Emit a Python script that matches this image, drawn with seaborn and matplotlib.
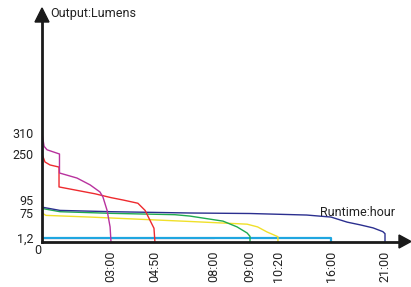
import numpy as np
import pandas as pd
import seaborn as sns
import matplotlib.pyplot as plt
from matplotlib.patches import Polygon

sns.set_style('white')
plt.rcParams['font.family'] = ['Roboto', 'DejaVu Sans']

# runtime curves (hours, lumens)
turbo_h = [0, 0.09, 0.22, 0.76, 0.76, 1.52, 2.09, 2.52, 2.65, 2.83, 2.96, 3.0]
turbo_lm = [310, 272, 262, 250, 186, 169, 146, 122, 105, 79, 34, 0]

high_h = [0, 0.13, 0.35, 0.74, 0.74, 2.3, 3.0, 3.5, 4.12, 4.42, 4.62, 4.79, 4.83]
high_lm = [250, 223, 213, 206, 139, 116, 103, 95, 90, 79, 54, 30, 0]

med_h = [0, 0.78, 3.0, 6.7, 9.0, 13.4, 16.0, 17.5, 18.7, 19.9, 20.8, 21.0, 21.0]
med_lm = [84, 79, 77, 75, 73.5, 69, 63, 48, 40, 31, 20, 14, 0]

green_h = [0, 0.78, 3.0, 5.9, 6.7, 8.25, 8.64, 8.92, 9.0, 9.0]
green_lm = [82, 77, 74, 70, 66, 51, 34, 16, 6, 0]

yellow_h = [0, 0.17, 2.09, 6.7, 8.92, 9.36, 9.81, 10.33, 10.33]
yellow_lm = [75, 68, 63, 50, 42, 34, 19, 5, 0]

pink_h = [0, 8]
pink_lm = [2.2, 2.2]

low_h = [0, 16, 16]
low_lm = [1.2, 1.2, 0]

x_ticks = [3, 4 + 50 / 60, 8, 9, 10 + 20 / 60, 16, 21]
x_labels = ['03:00', '04:50', '08:00', '09:00', '10:20', '16:00', '21:00']
y_ticks = [1.2, 75, 95, 250, 310]
y_labels = ['1,2', '75', '95', '250', '310']

# uneven axis spacing as drawn in the original
xv = [0, 3, 4.833, 8, 9, 10.333, 16, 21, 30]
xp = [0, 69, 113, 172, 208, 236, 289, 343, 440]
yv = [0, 1.2, 75, 95, 250, 310, 800]
yp = [0, 4, 29, 42, 88, 109, 280]

series = [
    ('pink', pink_h, pink_lm, '#f2a6ae', 1.0),
    ('low', low_h, low_lm, '#1fa6e0', 1.6),
    ('yellow', yellow_h, yellow_lm, '#f0e02a', 1.0),
    ('green', green_h, green_lm, '#1faa4f', 1.0),
    ('med', med_h, med_lm, '#2b2f8f', 1.0),
    ('high', high_h, high_lm, '#ee2a2e', 1.0),
    ('turbo', turbo_h, turbo_lm, '#b8329e', 1.0),
]

fig = plt.figure(figsize=(4.11, 2.87), dpi=100)
ax = fig.add_axes([42 / 411, 45 / 287, 358 / 411, 220 / 287])

for name, h, lm, col, lw in series:
    df = pd.DataFrame({'hours': h, 'lumens': lm})
    sns.lineplot(data=df, x='hours', y='lumens', ax=ax, color=col, lw=lw,
                 estimator=None, sort=False, legend=False)

ax.set_xscale('function', functions=(lambda v: np.interp(v, xv, xp),
                                     lambda p: np.interp(p, xp, xv)))
ax.set_yscale('function', functions=(lambda v: np.interp(v, yv, yp),
                                     lambda p: np.interp(p, yp, yv)))
ax.set_xlim(0, np.interp(358, xp, xv))
ax.set_ylim(0, np.interp(220, yp, yv))

ax.set_xticks(x_ticks)
ax.set_xticklabels(x_labels, rotation=90)
ax.set_yticks(y_ticks)
ax.set_yticklabels(y_labels)
ax.minorticks_off()
ax.tick_params(axis='x', direction='out', length=4, width=1, color='#333333',
               pad=2, labelsize=9, labelcolor='#222222')
ax.tick_params(axis='y', direction='out', length=3, width=1, color='#333333',
               pad=3, labelsize=9, labelcolor='#222222')
ax.set_xlabel('')
ax.set_ylabel('')

for s in ['top', 'right']:
    ax.spines[s].set_visible(False)
for s in ['left', 'bottom']:
    ax.spines[s].set_linewidth(2)
    ax.spines[s].set_color('#1a1a1a')

# arrow heads
W, H = 411, 287
def px(pts):
    return [(x / W, 1 - y / H) for x, y in pts]
fig.add_artist(Polygon(px([(35, 22), (42, 8), (49, 22)]), closed=True,
                       color='#1a1a1a', transform=fig.transFigure))
fig.add_artist(Polygon(px([(399, 235), (411, 241.5), (399, 248)]), closed=True,
                       color='#1a1a1a', transform=fig.transFigure))

fig.text(50 / W, 1 - 14 / H, 'Output:Lumens', fontsize=9, color='#222222',
         ha='left', va='center')
fig.text(320 / W, 1 - 212 / H, 'Runtime:hour', fontsize=9, color='#222222',
         ha='left', va='center')
fig.text(38 / W, 1 - 250 / H, '0', fontsize=9, color='#222222',
         ha='center', va='center')

fig.savefig('out.png', dpi=100)
